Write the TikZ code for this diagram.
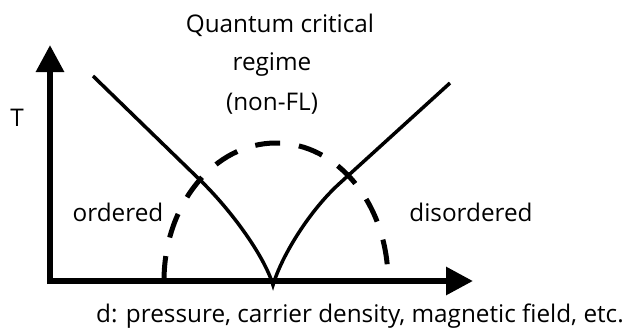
\documentclass[tikz,border=0pt]{standalone}
\usepackage{fontspec}
\setmainfont{Open Sans}
\usetikzlibrary{arrows.meta}
\begin{document}
\begin{tikzpicture}[x=1pt,y=-1pt,
  axis/.style={line width=6pt,-{Triangle[length=27pt,width=27pt]}},
  phase/.style={line width=3.5pt},
  dome/.style={line width=5pt,dash pattern=on 25pt off 19pt},
  lbl/.style={font=\fontsize{24.3}{28}\selectfont,inner sep=0pt}]
\useasboundingbox (0,0) rectangle (635,332);
\coordinate (origin) at (47,281);
\coordinate (ytip) at (50,45);
\coordinate (xtip) at (473,281);
\coordinate (ybase) at (50,284);
\coordinate (lstart) at (93,76);
\coordinate (lbend) at (200,180);
\coordinate (qcp) at (273,285);
\coordinate (rbend) at (340,183);
\coordinate (rend) at (450,83);
\coordinate (domeL) at (164,281);
% dome
\draw[dome] (domeL) arc[start angle=180,end angle=360,x radius=112,y radius=138];
% crossover lines
\draw[phase] (lstart) -- (lbend) .. controls (230,209) and (264,255) .. (qcp)
  .. controls (282,255) and (310,210) .. (rbend) -- (rend);
% axes
\draw[axis] (ybase) -- (ytip);
\draw[axis] (origin) -- (xtip);
% labels
\node[lbl] (qc) at (280,25) {Quantum critical};
\node[lbl] (reg) at (272,65) {regime};
\node[lbl] (nfl) at (272,104) {(non-FL)};
\node[lbl] (T) at (17,118) {T};
\node[lbl] (ord) at (118,212) {ordered};
\node[lbl] (dis) at (471,212) {disordered};
\node[lbl] (dlab) at (360,316) {d: pressure, carrier density, magnetic field, etc.};
\end{tikzpicture}
\end{document}
